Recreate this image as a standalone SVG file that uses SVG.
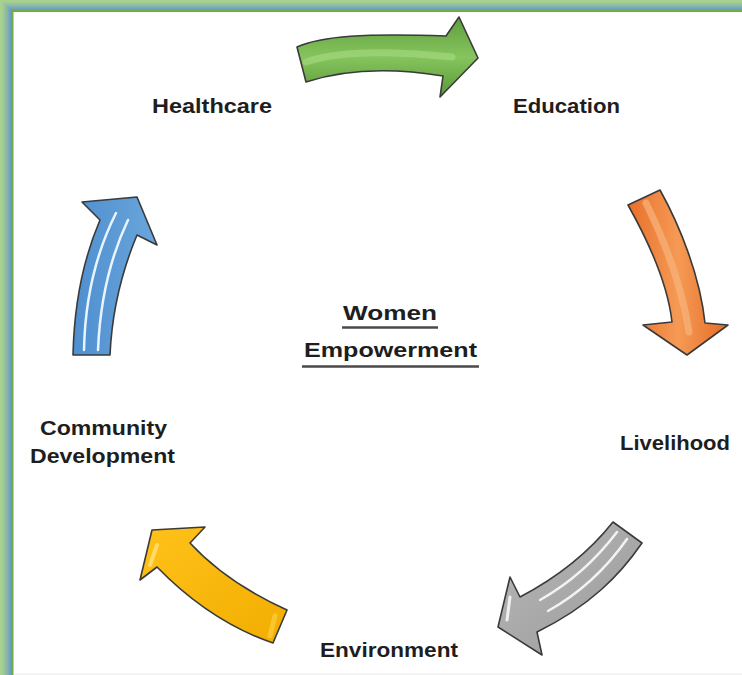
<svg xmlns="http://www.w3.org/2000/svg" width="742" height="675" viewBox="0 0 742 675">
  <defs>
    <style>
      .label { font-family: "Liberation Sans", Arial, sans-serif; font-weight: bold; font-size: 21px; fill: #1e1e1e; }
      .arrow { stroke: #3a3a3a; stroke-width: 1.6; stroke-linejoin: round; }
      .shine { fill: none; stroke-linecap: round; }
      .uline { stroke: #4a4a4a; stroke-width: 2.5; }
    </style>
    <linearGradient id="gGreen" x1="0" y1="0" x2="0" y2="1">
      <stop offset="0" stop-color="#5e9e3c"/>
      <stop offset="0.5" stop-color="#86c45e"/>
      <stop offset="1" stop-color="#5a9838"/>
    </linearGradient>
    <linearGradient id="gOrange" x1="0" y1="0" x2="1" y2="0">
      <stop offset="0" stop-color="#e8702a"/>
      <stop offset="0.5" stop-color="#f59a55"/>
      <stop offset="1" stop-color="#e56c25"/>
    </linearGradient>
    <linearGradient id="gGray" x1="0" y1="0" x2="1" y2="1">
      <stop offset="0" stop-color="#b8b8b8"/>
      <stop offset="1" stop-color="#9a9a9a"/>
    </linearGradient>
    <linearGradient id="gYellow" x1="0" y1="0" x2="1" y2="1">
      <stop offset="0" stop-color="#ffc21a"/>
      <stop offset="1" stop-color="#f2ad00"/>
    </linearGradient>
    <linearGradient id="gBlue" x1="0" y1="0" x2="1" y2="0">
      <stop offset="0" stop-color="#4f8fcf"/>
      <stop offset="1" stop-color="#6aa6dc"/>
    </linearGradient>
  </defs>

  <!-- page frame -->
  <rect x="0" y="0" width="742" height="675" fill="#a9d18e"/>
  <rect x="2.5" y="2.5" width="760" height="700" fill="#9cc79a"/>
  <rect x="5" y="4.5" width="760" height="700" fill="#8bbaa8"/>
  <rect x="7.5" y="6.5" width="760" height="700" fill="#7aabb6"/>
  <rect x="9.5" y="8.5" width="760" height="700" fill="#6b9fc0"/>
  <rect x="11" y="10" width="760" height="700" fill="#70ad47"/>
  <rect x="13.5" y="12" width="760" height="700" fill="#ffffff"/>
  <line x1="14" y1="674" x2="742" y2="674" stroke="#e8e8e8" stroke-width="1"/>

  <!-- cycle arrows -->
  <g id="connectors">
    <g id="arrow-healthcare-education">
      <path class="arrow" fill="url(#gGreen)" d="M297,47 C322,36 365,33 446,36 L459,17 L478,58 L440,97 L443,76 C400,69 352,67 306,82 Z"/>
      <path class="shine" stroke="#a6dc82" stroke-width="7" opacity="0.6" d="M306,62 C340,50 395,51 452,57"/>
    </g>
    <g id="arrow-education-livelihood">
      <path class="arrow" fill="url(#gOrange)" d="M628,205 L660,190 C680,226 700,276 705,323 L728,325 L687,355 L643,325 L672,322 C668,286 651,246 628,205 Z"/>
      <path class="shine" stroke="#f8b47c" stroke-width="7" opacity="0.7" d="M646,203 C665,242 682,286 689,332"/>
    </g>
    <g id="arrow-livelihood-environment">
      <path class="arrow" fill="url(#gGray)" d="M613,522 L642,543 C620,575 590,606 537,632 L542,655 L498,627 L510,577 L520,597 C560,576 590,551 613,522 Z"/>
      <path class="shine" stroke="#ffffff" stroke-width="2.5" opacity="0.85" d="M617,532 C598,557 572,582 540,600"/>
      <path class="shine" stroke="#ffffff" stroke-width="2.5" opacity="0.85" d="M627,539 C608,566 582,592 548,611"/>
      <path class="shine" stroke="#ffffff" stroke-width="3" opacity="0.8" d="M510,597 L507,620"/>
    </g>
    <g id="arrow-environment-community">
      <path class="arrow" fill="url(#gYellow)" d="M287,610 L273,643 C235,630 195,606 157,567 L140,580 L152,530 L205,527 L190,543 C215,570 245,591 287,610 Z"/>
      <path class="shine" stroke="#ffe27a" stroke-width="4" opacity="0.8" d="M157,545 L150,565"/>
      <path class="shine" stroke="#ffd54a" stroke-width="5" opacity="0.6" d="M275,616 L270,636"/>
    </g>
    <g id="arrow-community-healthcare">
      <path class="arrow" fill="url(#gBlue)" d="M73,355 C74,310 82,262 100,220 L82,202 L137,197 L157,245 L137,235 C122,271 112,310 110,355 Z"/>
      <path class="shine" stroke="#e8f4ff" stroke-width="2.5" d="M84,350 C85,300 95,255 116,213"/>
      <path class="shine" stroke="#e8f4ff" stroke-width="2.5" d="M98,350 C100,302 110,258 128,220"/>
    </g>
  </g>

  <!-- labels -->
  <g id="node-center">
    <text class="label" x="343" y="320" textLength="94" lengthAdjust="spacingAndGlyphs">Women</text>
    <line class="uline" x1="342" y1="327.5" x2="438" y2="327.5"/>
    <text class="label" x="304" y="357" textLength="173" lengthAdjust="spacingAndGlyphs">Empowerment</text>
    <line class="uline" x1="302" y1="366.5" x2="479" y2="366.5"/>
  </g>
  <g id="node-healthcare">
    <text class="label" x="152" y="113" textLength="120" lengthAdjust="spacingAndGlyphs">Healthcare</text>
  </g>
  <g id="node-education">
    <text class="label" x="513" y="113" textLength="107" lengthAdjust="spacingAndGlyphs">Education</text>
  </g>
  <g id="node-livelihood">
    <text class="label" x="620" y="450" textLength="110" lengthAdjust="spacingAndGlyphs">Livelihood</text>
  </g>
  <g id="node-environment">
    <text class="label" x="320" y="657" textLength="138" lengthAdjust="spacingAndGlyphs">Environment</text>
  </g>
  <g id="node-community">
    <text class="label" x="40" y="435" textLength="127" lengthAdjust="spacingAndGlyphs">Community</text>
    <text class="label" x="30" y="463" textLength="145" lengthAdjust="spacingAndGlyphs">Development</text>
  </g>
</svg>
